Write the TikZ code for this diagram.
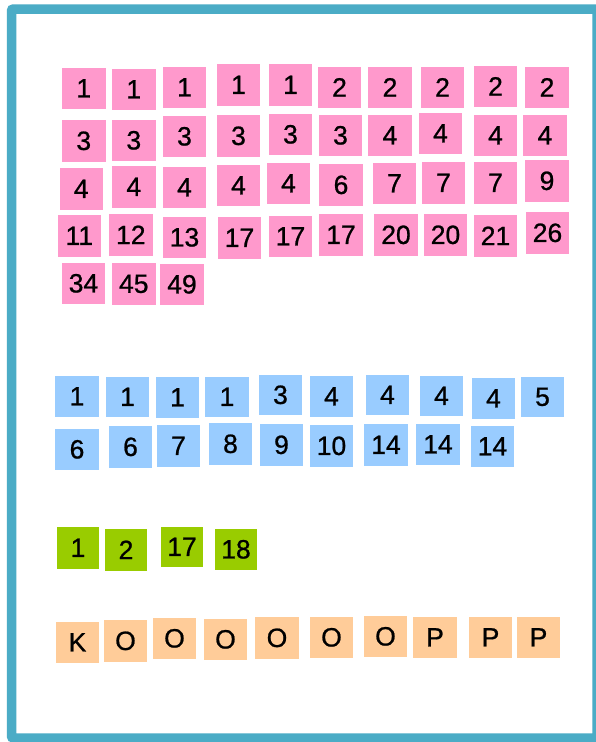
\documentclass[tikz,border=0pt]{standalone}
\usepackage{fontspec}
\setmainfont{Liberation Sans}
\newfontfamily\tilefont{Liberation Sans}[FakeBold=0.8]
\definecolor{frame}{HTML}{4BACC6}
\definecolor{pinkc}{HTML}{FF99CC}
\definecolor{bluec}{HTML}{99CCFF}
\definecolor{greenc}{HTML}{99CC00}
\definecolor{orangec}{HTML}{FFCC99}
\newcommand\sqbox[7]{%
  \pgfmathsetmacro\sqw{#5-#3}\pgfmathsetmacro\sqh{#6-#4}%
  \node[#2, minimum width=\sqw pt, minimum height=\sqh pt] (#1) at ({(#3+#5)/2},{(#4+#6)/2}) {#7};}
\begin{document}
\begin{tikzpicture}[x=1pt,y=-1pt,
  tile/.style={rectangle, inner sep=0pt, outer sep=0pt, text=black,
    font=\tilefont\fontsize{26.5}{30}\selectfont},
  pk/.style={tile, fill=pinkc},
  bl/.style={tile, fill=bluec},
  gr/.style={tile, fill=greenc},
  og/.style={tile, fill=orangec}]
\useasboundingbox (0,0) rectangle (595,742);
\fill[white] (0,0) rectangle (595,742);
\draw[frame, line width=9.5pt, rounded corners=2pt] (11.5,9) rectangle (597,738);
% pink
\sqbox{p1}{pk}{62}{68}{105.5}{108.7}{1}
\sqbox{p2}{pk}{112}{69}{155.6}{109.7}{1}
\sqbox{p3}{pk}{163}{67}{206}{107.7}{1}
\sqbox{p4}{pk}{217}{64}{260}{105.7}{1}
\sqbox{p5}{pk}{269}{64}{312}{105.7}{1}
\sqbox{p6}{pk}{318}{67}{361}{107.7}{2}
\sqbox{p7}{pk}{368}{67}{412}{107.7}{2}
\sqbox{p8}{pk}{421}{67}{464}{107.7}{2}
\sqbox{p9}{pk}{474}{66}{517}{106.7}{2}
\sqbox{p10}{pk}{525}{67}{569}{107.7}{2}
\sqbox{p11}{pk}{62}{120}{105.5}{161.7}{3}
\sqbox{p12}{pk}{112}{120}{155.6}{160.7}{3}
\sqbox{p13}{pk}{163}{116}{206}{156.7}{3}
\sqbox{p14}{pk}{217}{115}{260}{156.7}{3}
\sqbox{p15}{pk}{269}{114}{312}{154.7}{3}
\sqbox{p16}{pk}{319}{115}{362}{155.7}{3}
\sqbox{p17}{pk}{368}{115}{412}{155.7}{4}
\sqbox{p18}{pk}{419}{113}{462}{153.7}{4}
\sqbox{p19}{pk}{474}{115}{517}{155.7}{4}
\sqbox{p20}{pk}{523}{115}{567}{155.7}{4}
\sqbox{p21}{pk}{60}{168}{102.5}{209.7}{4}
\sqbox{p22}{pk}{112}{166}{155.6}{207.7}{4}
\sqbox{p23}{pk}{163}{167}{206}{207.7}{4}
\sqbox{p24}{pk}{217}{165}{260}{205.7}{4}
\sqbox{p25}{pk}{267}{163}{310}{203.7}{4}
\sqbox{p26}{pk}{319}{164}{363}{205.7}{6}
\sqbox{p27}{pk}{373}{163}{416}{203.7}{7}
\sqbox{p28}{pk}{422}{162}{465}{203.7}{7}
\sqbox{p29}{pk}{474}{162}{517}{203.7}{7}
\sqbox{p30}{pk}{525}{160}{569}{201.7}{9}
\sqbox{p31}{pk}{58}{215}{100.6}{256.7}{11}
\sqbox{p32}{pk}{109}{214}{152.6}{255.7}{12}
\sqbox{p33}{pk}{163}{217}{206}{257.7}{13}
\sqbox{p34}{pk}{218}{217}{261}{258.7}{17}
\sqbox{p35}{pk}{269}{216}{312}{256.7}{17}
\sqbox{p36}{pk}{319}{214}{363}{255.7}{17}
\sqbox{p37}{pk}{374}{214}{418}{255.7}{20}
\sqbox{p38}{pk}{424}{214}{467}{255.7}{20}
\sqbox{p39}{pk}{474}{215}{517}{256.7}{21}
\sqbox{p40}{pk}{526}{212}{569}{253.7}{26}
\sqbox{p41}{pk}{62}{263}{105}{303.7}{34}
\sqbox{p42}{pk}{112}{263}{155.6}{304.7}{45}
\sqbox{p43}{pk}{160}{264}{204}{304.7}{49}
% blue
\sqbox{b1}{bl}{55}{376}{99}{416.7}{1}
\sqbox{b2}{bl}{106}{377}{149}{416.7}{1}
\sqbox{b3}{bl}{156}{377}{199}{417.7}{1}
\sqbox{b4}{bl}{205}{377}{249}{416.7}{1}
\sqbox{b5}{bl}{259}{375}{302}{414.7}{3}
\sqbox{b6}{bl}{310}{376}{353}{416.7}{4}
\sqbox{b7}{bl}{366}{375}{409}{414.7}{4}
\sqbox{b8}{bl}{420}{376}{463}{415.7}{4}
\sqbox{b9}{bl}{472}{378}{515}{418.7}{4}
\sqbox{b10}{bl}{521}{377}{564}{416.7}{5}
\sqbox{b11}{bl}{55}{429}{99}{469.7}{6}
\sqbox{b12}{bl}{109}{426}{152}{467.7}{6}
\sqbox{b13}{bl}{157}{425}{200}{466.7}{7}
\sqbox{b14}{bl}{209}{423}{252}{464.7}{8}
\sqbox{b15}{bl}{260}{424}{303}{465.7}{9}
\sqbox{b16}{bl}{310}{425}{353}{466.7}{10}
\sqbox{b17}{bl}{364}{424}{408}{465.7}{14}
\sqbox{b18}{bl}{416}{424}{460}{464.7}{14}
\sqbox{b19}{bl}{471}{426}{514}{466.7}{14}
% green
\sqbox{g1}{gr}{57}{527}{99}{568.7}{1}
\sqbox{g2}{gr}{105}{529}{147}{570.7}{2}
\sqbox{g3}{gr}{161}{527}{203}{566.7}{17}
\sqbox{g4}{gr}{215}{529}{257}{569.7}{18}
% orange
\sqbox{o1}{og}{56}{622}{99}{662.7}{K}
\sqbox{o2}{og}{104}{620}{147}{661.7}{O}
\sqbox{o3}{og}{153}{618}{196}{658.7}{O}
\sqbox{o4}{og}{204}{619}{247}{659.7}{O}
\sqbox{o5}{og}{255}{617}{299}{658.7}{O}
\sqbox{o6}{og}{310}{617}{353}{657.7}{O}
\sqbox{o7}{og}{364}{616}{407}{656.7}{O}
\sqbox{o8}{og}{413}{617}{457}{657.7}{P}
\sqbox{o9}{og}{469}{617}{512}{657.7}{P}
\sqbox{o10}{og}{517}{617}{560}{657.7}{P}
\end{tikzpicture}
\end{document}
